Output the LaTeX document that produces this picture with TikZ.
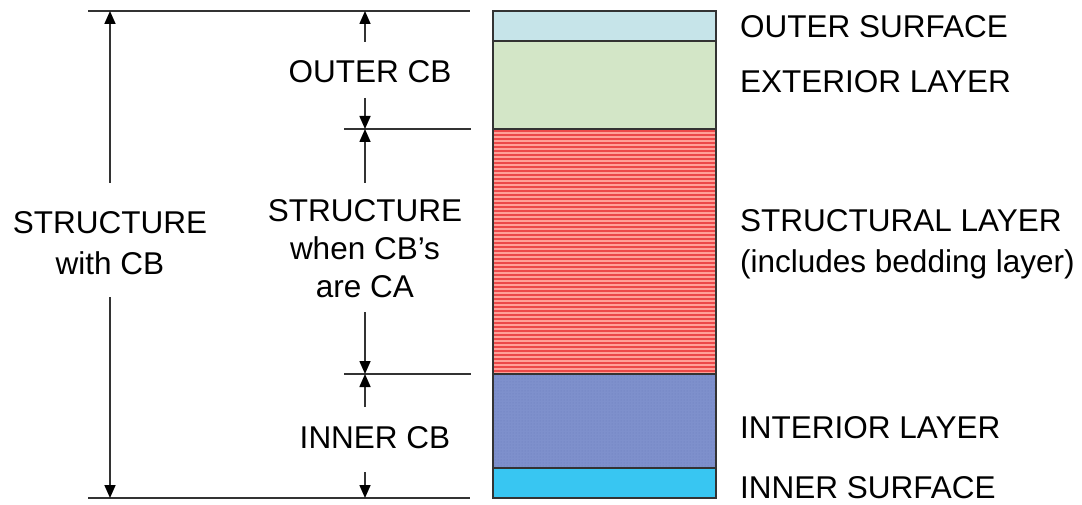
\documentclass[tikz,border=0pt]{standalone}
\usepackage{fontspec}
\setmainfont{Liberation Sans}
\usetikzlibrary{arrows.meta,patterns}

\definecolor{surfout}{HTML}{C6E4E9}
\definecolor{extlayer}{HTML}{D3E6C7}
\definecolor{strbase}{HTML}{FFA098}
\definecolor{strline}{HTML}{EC4848}
\definecolor{intlayer}{HTML}{7E90CC}
\definecolor{intdot}{HTML}{6A7CBE}
\definecolor{surfin}{HTML}{38C6F2}
\definecolor{edge}{HTML}{333333}
\definecolor{dimline}{HTML}{333333}

\tikzset{
  layer/.style={draw=edge, line width=1.6pt, anchor=north west,
    minimum width=223pt, inner sep=0pt, outer sep=0pt},
  extline/.style={draw=dimline, line width=1.6pt},
  dimarrow/.style={draw=dimline, line width=1.6pt,
    -{Triangle[length=13pt 0,width=11pt 0,color=black]}},
  lbl/.style={font=\fontsize{31.5}{41}\selectfont, inner sep=0pt, align=center},
  sidelbl/.style={lbl, anchor=west, align=left}
}

\begin{document}
\begin{tikzpicture}[x=1pt,y=-1pt]
\useasboundingbox (0,0) rectangle (1082,505);

% wall layers, outside to inside
\node[layer, fill=surfout, minimum height=30pt] (os) at (493,11) {};
\node[layer, fill=extlayer, minimum height=88pt] (ext) at (493,41) {};
\node[layer, fill=strbase, minimum height=245pt] (str) at (493,129) {};
\begin{scope}
  \clip (str.north west) rectangle (str.south east);
  \foreach \yy in {131,135,...,375}
    \draw[strline, line width=1.8pt] (493,\yy) -- (716,\yy);
\end{scope}
\draw[edge, line width=1.6pt] (str.north west) rectangle (str.south east);
\node[layer, fill=intlayer, minimum height=94pt] (int) at (493,374) {};
\fill[pattern=dots, pattern color=intdot] (int.north west) rectangle (int.south east);
\draw[edge, line width=1.6pt] (int.north west) rectangle (int.south east);
\node[layer, fill=surfin, minimum height=30pt] (is) at (493,468) {};

% extension lines
\coordinate (topL) at (88,11);   \coordinate (topR) at (470,11);
\coordinate (botL) at (88,498);  \coordinate (botR) at (470,498);
\coordinate (upL) at (344,129);  \coordinate (upR) at (471,129);
\coordinate (loL) at (344,374);  \coordinate (loR) at (471,374);
\draw[extline] (topL) -- (topR);
\draw[extline] (botL) -- (botR);
\draw[extline] (upL) -- (upR);
\draw[extline] (loL) -- (loR);

% overall dimension
\coordinate (wT) at (110,11);  \coordinate (wB) at (110,498);
\node[lbl] (whole) at (110,243) {STRUCTURE\\with CB};
\coordinate (wA) at (110,183); \coordinate (wZ) at (110,297);
\draw[dimarrow] (wA) -- (wT);
\draw[dimarrow] (wZ) -- (wB);

% partial dimensions
\coordinate (m11) at (365,11);   \coordinate (m129) at (365,129);
\coordinate (m374) at (365,374); \coordinate (m498) at (365,498);
\coordinate (a1) at (365,42);  \coordinate (a2) at (365,98);
\coordinate (b1) at (365,183); \coordinate (b2) at (365,312);
\coordinate (c1) at (365,407); \coordinate (c2) at (365,472);
\draw[dimarrow] (a1) -- (m11);
\draw[dimarrow] (a2) -- (m129);
\draw[dimarrow] (b1) -- (m129);
\draw[dimarrow] (b2) -- (m374);
\draw[dimarrow] (c1) -- (m374);
\draw[dimarrow] (c2) -- (m498);
\node[lbl] (ocb) at (370,72) {OUTER CB};
\node[lbl, font=\fontsize{31.5}{38}\selectfont] (scb) at (365,249) {STRUCTURE\\when CB’s\\are CA};
\node[lbl] (icb) at (375,438) {INNER CB};

% layer names
\node[sidelbl] (tos) at (740,27) {OUTER SURFACE};
\node[sidelbl] (text) at (740,82) {EXTERIOR LAYER};
\node[sidelbl] (tstr) at (740,244) {STRUCTURAL LAYER\\(includes bedding layer)};
\node[sidelbl] (tint) at (740,428) {INTERIOR LAYER};
\node[sidelbl] (tis) at (740,488) {INNER SURFACE};
\end{tikzpicture}
\end{document}
